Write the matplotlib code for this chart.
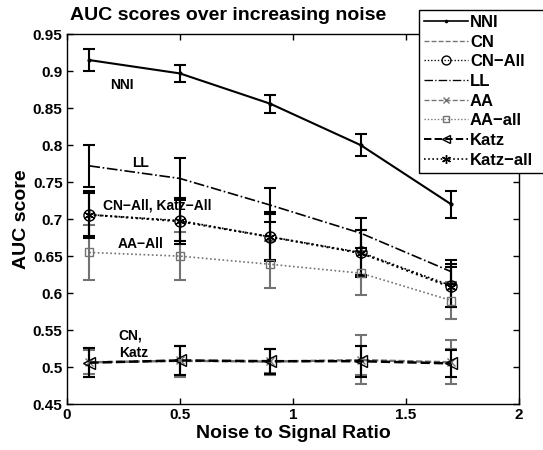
import numpy as np
import matplotlib
matplotlib.use("Agg")
import matplotlib.pyplot as plt
from matplotlib.lines import Line2D

plt.rcParams['font.family'] = ['Liberation Sans', 'DejaVu Sans']
plt.rcParams['font.weight'] = 'bold'

# noise levels
noise = [0.1, 0.5, 0.9, 1.3, 1.7]

# AUC means and error bars
nni = [0.915, 0.897, 0.856, 0.800, 0.720]
nni_err = [0.015, 0.012, 0.012, 0.015, 0.018]
cn = [0.506, 0.508, 0.507, 0.509, 0.506]
cn_err = [0.020, 0.021, 0.018, 0.020, 0.019]
cn_all = [0.706, 0.698, 0.676, 0.655, 0.610]
cn_all_err = [0.029, 0.028, 0.031, 0.030, 0.029]
ll = [0.772, 0.755, 0.719, 0.681, 0.629]
ll_err = [0.028, 0.027, 0.023, 0.020, 0.016]
aa = [0.507, 0.509, 0.508, 0.510, 0.507]
aa_err = [0.016, 0.020, 0.016, 0.033, 0.030]
aa_all = [0.655, 0.650, 0.639, 0.627, 0.590]
aa_all_err = [0.037, 0.032, 0.032, 0.030, 0.025]
katz = [0.506, 0.509, 0.508, 0.508, 0.505]
katz_err = [0.020, 0.019, 0.017, 0.021, 0.018]
katz_all = [0.706, 0.697, 0.676, 0.654, 0.608]
katz_all_err = [0.032, 0.030, 0.033, 0.032, 0.027]

fig = plt.figure(figsize=(5.43, 4.5), dpi=100)
ax = fig.add_axes([0.123, 0.102, 0.833, 0.822])

gray = '0.45'
dot = (0, (1, 1.5))
asterisk = (6, 2, 0)
styles = [
    # label, y, err, color, ls, marker, ms, lw
    ('NNI', nni, nni_err, 'k', '-', '.', 4, 1.5),
    ('CN', cn, cn_err, gray, '--', 'None', 6, 1.2),
    ('CN\u2212All', cn_all, cn_all_err, 'k', dot, 'o', 8, 1.2),
    ('LL', ll, ll_err, 'k', '-.', 'None', 6, 1.2),
    ('AA', aa, aa_err, gray, '--', 'x', 6, 1.2),
    ('AA\u2212all', aa_all, aa_all_err, gray, dot, 's', 6, 1.2),
    ('Katz', katz, katz_err, 'k', '--', '<', 8, 1.8),
    ('Katz\u2212all', katz_all, katz_all_err, 'k', dot, asterisk, 8, 1.5),
]

handles = []
for lab, y, e, c, ls, m, ms, lw in styles:
    hollow = m in ('o', 's', '<')
    ax.errorbar(noise, y, yerr=e, color=c, ls=ls, marker=m, mfc='none' if hollow else c,
                ms=ms, lw=lw, capsize=4, elinewidth=1.5, capthick=1.5)
    handles.append(Line2D([], [], color=c, ls=ls, marker=m, ms=ms * 0.8, lw=lw * 0.8,
                          mfc='none' if hollow else c, label=lab))

ax.set_xlim(0, 2)
ax.set_ylim(0.45, 0.95)
ax.set_xticks([0, 0.5, 1, 1.5, 2])
ax.set_xticklabels(['0', '0.5', '1', '1.5', '2'])
ax.set_yticks(np.arange(0.45, 0.951, 0.05))
ax.set_yticklabels(['0.45', '0.5', '0.55', '0.6', '0.65', '0.7', '0.75', '0.8', '0.85', '0.9', '0.95'])
ax.tick_params(direction='in', labelsize=11, width=1, length=4, top=True, right=True, pad=3)
for s in ax.spines.values():
    s.set_linewidth(1)
ax.set_xlabel('Noise to Signal Ratio', fontsize=14, fontweight='bold', labelpad=2)
ax.set_ylabel('AUC score', fontsize=14, fontweight='bold', labelpad=2)
fig.text(0.42, 0.955, 'AUC scores over increasing noise', ha='center', fontsize=14, fontweight='bold')

# inline labels
ax.text(0.19, 0.881, 'NNI', fontsize=10, fontweight='bold', va='center')
ax.text(0.29, 0.776, 'LL', fontsize=10, fontweight='bold', va='center')
ax.text(0.16, 0.718, 'CN\u2212All, Katz\u2212All', fontsize=10, fontweight='bold', va='center')
ax.text(0.225, 0.666, 'AA\u2212All', fontsize=10, fontweight='bold', va='center')
ax.text(0.23, 0.531, 'CN,\nKatz', fontsize=10, fontweight='bold', va='center', linespacing=1.3)

# legend sticks out past the right edge, like the original
leg = fig.legend(handles=handles, loc='upper left', bbox_to_anchor=(0.772, 0.0, 0.25, 0.978),
                 mode='expand', fontsize=12, frameon=True, fancybox=False, edgecolor='k',
                 framealpha=1, handlelength=2.6, borderpad=0.3, labelspacing=0.28,
                 handletextpad=0.15, borderaxespad=0)
leg.get_frame().set_linewidth(1)
for t in leg.get_texts():
    t.set_fontweight('bold')

fig.savefig('out.png', dpi=100)
